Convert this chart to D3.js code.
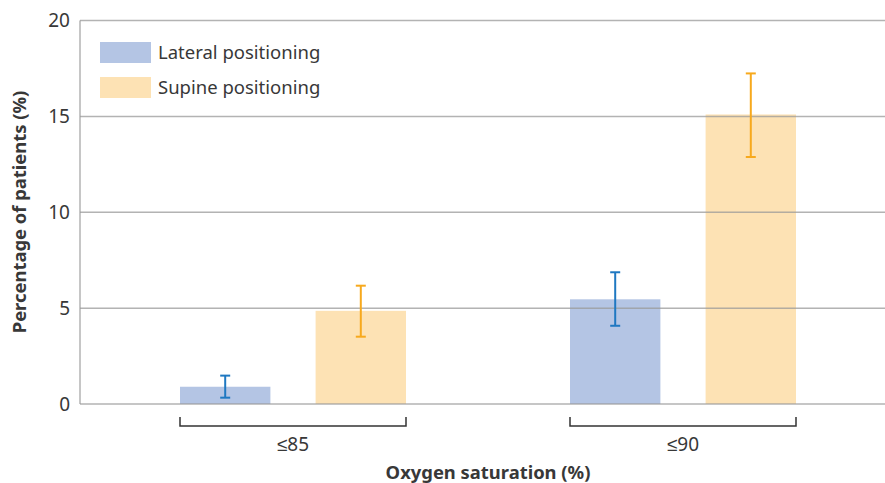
<!DOCTYPE html>
<html><head><meta charset="utf-8">
<script src="https://cdn.jsdelivr.net/npm/d3@7"></script>
<style>
body{margin:0;background:#fff;}
text{font-family:"Noto Sans",sans-serif;}
</style></head>
<body><svg id="c" width="885" height="483"></svg>
<script>
const categories = ["≤85", "≤90"];
const seriesNames = ["Lateral positioning", "Supine positioning"];
const lateralValues = [0.9, 5.46];
const lateralLow = [0.33, 4.08];
const lateralHigh = [1.48, 6.87];
const supineValues = [4.86, 15.1];
const supineLow = [3.51, 12.88];
const supineHigh = [6.17, 17.24];
const yTicks = [0, 5, 10, 15, 20];

const barColors = ["#b4c5e4", "#fde2b4"];
const errColors = ["#1f78c1", "#f7a91d"];

(function(){
const svg = d3.select("#c");
const pLeft = 80, pRight = 885, pTop = 20.5, pBottom = 404;
const y = d3.scaleLinear().domain([0, 20]).range([pBottom, pTop]);
const groupScale = d3.scalePoint().domain(categories).range([180, 570]);
const inner = d3.scaleBand().domain([0, 1]).range([0, 226]).paddingInner(1/3).paddingOuter(0);

const series = [
  {vals: lateralValues, lo: lateralLow, hi: lateralHigh},
  {vals: supineValues, lo: supineLow, hi: supineHigh}
];

series.forEach((s, si) => {
  svg.selectAll(null).data(categories).enter().append("rect")
    .attr("x", c => groupScale(c) + inner(si))
    .attr("width", inner.bandwidth())
    .attr("y", (c, i) => y(s.vals[i]))
    .attr("height", (c, i) => y(0) - y(s.vals[i]))
    .attr("fill", barColors[si]);
});

svg.selectAll(null).data(yTicks).enter().append("line")
  .attr("x1", pLeft).attr("x2", pRight)
  .attr("y1", d => y(d)).attr("y2", d => y(d))
  .attr("stroke", "#999").attr("stroke-opacity", 0.75).attr("stroke-width", 1.5);
svg.append("line").attr("x1", pLeft).attr("x2", pLeft).attr("y1", y(20)).attr("y2", y(0))
  .attr("stroke", "#999").attr("stroke-opacity", 0.75).attr("stroke-width", 1.5);

svg.selectAll(null).data(yTicks).enter().append("text")
  .attr("x", 70).attr("y", d => y(d)).attr("dy", "0.35em")
  .attr("text-anchor", "end").attr("font-size", 19).attr("fill", "#383838")
  .text(d => d);

series.forEach((s, si) => {
  categories.forEach((c, i) => {
    const cx = groupScale(c) + inner(si) + inner.bandwidth() / 2;
    const g = svg.append("g").attr("stroke", errColors[si]).attr("stroke-width", 2);
    g.append("line").attr("x1", cx).attr("x2", cx).attr("y1", y(s.hi[i])).attr("y2", y(s.lo[i]));
    g.append("line").attr("x1", cx - 5).attr("x2", cx + 5).attr("y1", y(s.hi[i])).attr("y2", y(s.hi[i]));
    g.append("line").attr("x1", cx - 5).attr("x2", cx + 5).attr("y1", y(s.lo[i])).attr("y2", y(s.lo[i]));
  });
});

categories.forEach(c => {
  const x1 = groupScale(c), x2 = groupScale(c) + inner.range()[1];
  svg.append("path").attr("d", `M${x1},417V426H${x2}V417`)
    .attr("fill", "none").attr("stroke", "#333").attr("stroke-width", 1.5);
  svg.append("text").attr("x", (x1 + x2) / 2).attr("y", 451)
    .attr("text-anchor", "middle").attr("font-size", 19).attr("fill", "#383838").text(c);
});

svg.append("text").attr("x", 488).attr("y", 479).attr("text-anchor", "middle")
  .attr("font-size", 18.4).attr("font-weight", "bold").attr("fill", "#383838").text("Oxygen saturation (%)");
svg.append("text").attr("transform", "translate(26,212) rotate(-90)").attr("text-anchor", "middle")
  .attr("font-size", 18.4).attr("font-weight", "bold").attr("fill", "#383838").text("Percentage of patients (%)");

seriesNames.forEach((n, i) => {
  svg.append("rect").attr("x", 100).attr("y", 42 + i * 35).attr("width", 51).attr("height", 21).attr("fill", barColors[i]);
  svg.append("text").attr("x", 158).attr("y", 52.5 + i * 35).attr("dy", "0.35em")
    .attr("font-size", 18.5).attr("fill", "#383838").text(n);
});
})();
</script></body></html>
